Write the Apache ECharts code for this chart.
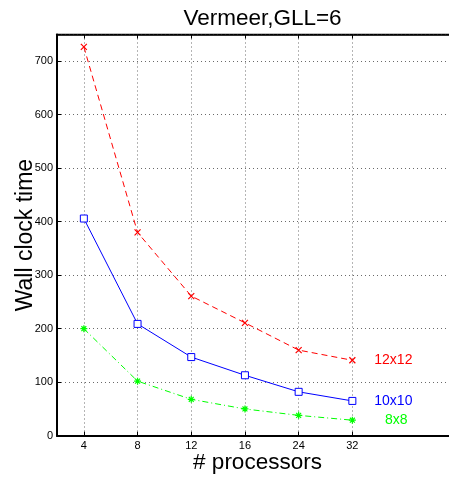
<!DOCTYPE html>
<html>
<head>
<meta charset="utf-8">
<script src="https://cdn.jsdelivr.net/npm/echarts@6/dist/echarts.min.js"></script>
<style>html,body{margin:0;padding:0;background:#fff}#c{width:449px;height:478px}</style>
</head>
<body>
<div id="c"></div>
<script>
// x categories (two trailing empty slots reproduce the axis extending past the last tick)
var categories = ['4', '8', '12', '16', '24', '32', '', ''];
var seriesNames = ['12x12', '10x10', '8x8'];
var values12 = [727, 380, 261, 211, 160, 141];
var values10 = [406, 209, 147, 113, 82, 65];
var values8 = [200, 102, 68, 50, 38, 29];
var yTicks = [0, 100, 200, 300, 400, 500, 600, 700];

var FONT = 'Liberation Sans, Arial, Helvetica, sans-serif';
var chart = echarts.init(document.getElementById('c'), null, {renderer: 'canvas'});

function notEmpty(i, v) { return v !== ''; }

function build(vals, labelOffset, color) {
  return vals.map(function (v, i) {
    if (i === vals.length - 1) {
      return {
        value: v,
        label: {
          show: true, position: 'inside', offset: [labelOffset, 0],
          formatter: '{a}', color: color, fontSize: 14, fontFamily: FONT
        }
      };
    }
    return v;
  });
}

var gridLine = {show: true, lineStyle: {color: '#6a6a6a', width: 1, type: [1, 3]}};

var option = {
  backgroundColor: '#fff',
  animation: false,
  title: {
    text: 'Vermeer,GLL=6',
    left: 257.5, top: 2, textAlign: 'center',
    textStyle: {fontFamily: FONT, fontSize: 22.5, fontWeight: 'normal', color: '#000'}
  },
  grid: [{
    left: 57, top: 34.5, right: -37.6, bottom: 42.3,
    containLabel: false, outerBoundsMode: 'none',
    show: true, borderColor: '#000', borderWidth: 1.5, backgroundColor: 'transparent'
  }, {
    // visible portion of the axes box, used only to centre the x-axis title
    left: 57, top: 34.5, right: -9, bottom: 42.3,
    containLabel: false, outerBoundsMode: 'none', show: false
  }],
  xAxis: [{
    type: 'category', data: categories, boundaryGap: true, position: 'bottom', gridIndex: 0,
    axisLine: {show: true, lineStyle: {color: '#000', width: 2}},
    axisTick: {show: true, inside: true, length: 4, alignWithLabel: true, interval: notEmpty, lineStyle: {color: '#000'}},
    axisLabel: {interval: 0, margin: 5, fontFamily: FONT, fontSize: 11, color: '#000'},
    splitLine: Object.assign({alignWithLabel: true, interval: notEmpty}, gridLine)
  }, {
    type: 'category', data: categories, boundaryGap: true, position: 'top', gridIndex: 0,
    axisLine: {show: true, lineStyle: {color: '#000', width: 1.5}},
    axisTick: {show: true, inside: true, length: 4, alignWithLabel: true, interval: notEmpty, lineStyle: {color: '#000'}},
    axisLabel: {show: false},
    splitLine: {show: false}
  }, {
    type: 'value', gridIndex: 1, min: 0, max: 1, position: 'bottom',
    name: '# processors', nameLocation: 'middle', nameGap: 16, nameMoveOverlap: false,
    nameTextStyle: {fontFamily: FONT, fontSize: 22.5, color: '#000'},
    axisLine: {show: false}, axisTick: {show: false}, axisLabel: {show: false}, splitLine: {show: false}
  }],
  yAxis: [{
    type: 'value', min: 0, max: 750, interval: 100, gridIndex: 0,
    name: 'Wall clock time', nameLocation: 'middle', nameGap: 20, nameRotate: 90, nameMoveOverlap: false,
    nameTextStyle: {fontFamily: FONT, fontSize: 23, color: '#000'},
    axisLine: {show: true, lineStyle: {color: '#000', width: 2}},
    axisTick: {show: true, inside: true, length: 4, lineStyle: {color: '#000'}},
    axisLabel: {
      margin: 4, fontFamily: FONT, fontSize: 11, color: '#000', showMaxLabel: false,
      formatter: function (v) { return yTicks.indexOf(v) >= 0 ? String(v) : ''; }
    },
    splitLine: gridLine
  }, {
    type: 'value', gridIndex: 1, show: false
  }],
  series: [{
    name: seriesNames[0], type: 'line', xAxisIndex: 0, yAxisIndex: 0,
    data: build(values12, 41, '#ff0000'),
    symbol: 'path://M0,0L10,10M10,0L0,10', symbolSize: 6,
    itemStyle: {color: 'transparent', borderColor: '#ff0000', borderWidth: 1.2},
    lineStyle: {color: '#ff0000', width: 1, type: [6, 4]}
  }, {
    name: seriesNames[1], type: 'line', xAxisIndex: 0, yAxisIndex: 0,
    data: build(values10, 41, '#0000ff'),
    symbol: 'rect', symbolSize: 7,
    itemStyle: {color: '#ffffff', borderColor: '#0000ff', borderWidth: 1},
    lineStyle: {color: '#0000ff', width: 1, type: 'solid'}
  }, {
    name: seriesNames[2], type: 'line', xAxisIndex: 0, yAxisIndex: 0,
    data: build(values8, 44, '#00ff00'),
    symbol: 'path://M5,0L5,10M0,5L10,5M1.5,1.5L8.5,8.5M8.5,1.5L1.5,8.5', symbolSize: 7,
    itemStyle: {color: 'transparent', borderColor: '#00ff00', borderWidth: 1.2},
    lineStyle: {color: '#00ff00', width: 1, type: [6, 3, 1, 3]}
  }]
};
chart.setOption(option);
</script>
</body>
</html>
